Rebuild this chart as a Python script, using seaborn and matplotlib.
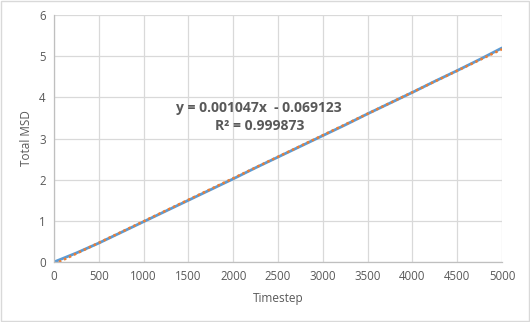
import numpy as np
import pandas as pd
import seaborn as sns
import matplotlib.pyplot as plt
from matplotlib.patches import Rectangle

# Data
timestep = [0, 250, 500, 750, 1000, 1250, 1500, 1750, 2000, 2250, 2500,
            2750, 3000, 3250, 3500, 3750, 4000, 4250, 4500, 4750, 5000]
total_msd = [0.0, 0.22, 0.46, 0.72, 0.98, 1.24, 1.50, 1.76, 2.02, 2.29, 2.55,
             2.81, 3.07, 3.33, 3.60, 3.86, 4.12, 4.39, 4.65, 4.92, 5.20]
eq_text = "y = 0.001047x  - 0.069123"
r2_text = "R² = 0.999873"
xticks = [0, 500, 1000, 1500, 2000, 2500, 3000, 3500, 4000, 4500, 5000]
yticks = [0, 1, 2, 3, 4, 5, 6]

sns.set_style("white")
plt.rcParams['font.family'] = ['Open Sans', 'DejaVu Sans']

txt = '#595959'
df = pd.DataFrame({'Timestep': timestep, 'Total MSD': total_msd})
coef = np.polyfit(df['Timestep'], df['Total MSD'], 1)
df['trend'] = np.polyval(coef, df['Timestep'])

fig = plt.figure(figsize=(5.30, 3.22), dpi=100)
ax = fig.add_axes([0.1019, 0.1863, 0.8453, 0.7671])

sns.lineplot(data=df, x='Timestep', y='Total MSD', ax=ax, color='#5B9BD5', lw=2.0)
sns.lineplot(data=df, x='Timestep', y='trend', ax=ax, color='#ED7D31', lw=1.8,
             linestyle=(0, (1, 1.2)))

ax.set_xlim(0, 5000)
ax.set_ylim(0, 6)
ax.set_xticks(xticks)
ax.set_yticks(yticks)
ax.grid(True, color='#D9D9D9', lw=0.9)
ax.set_axisbelow(True)
for s in ['top', 'right']:
    ax.spines[s].set_visible(False)
for s in ['left', 'bottom']:
    ax.spines[s].set_color('#BFBFBF')
    ax.spines[s].set_linewidth(0.9)
ax.tick_params(axis='both', length=0, labelsize=8.3, labelcolor=txt, pad=6)
ax.set_xlabel('Timestep', fontsize=8.5, color=txt, labelpad=6)
ax.set_ylabel('Total MSD', fontsize=8.5, color=txt, labelpad=4)

ax.text(2290, 3.74, eq_text, ha='center', va='center', fontsize=10,
        fontweight='bold', color=txt)
ax.text(2290, 3.30, r2_text, ha='center', va='center', fontsize=10,
        fontweight='bold', color=txt)

fig.patches.append(Rectangle((0.002, 0.003), 0.996, 0.994, transform=fig.transFigure,
                             fill=False, edgecolor='#D9D9D9', lw=1))

fig.savefig('out.png', dpi=100)
